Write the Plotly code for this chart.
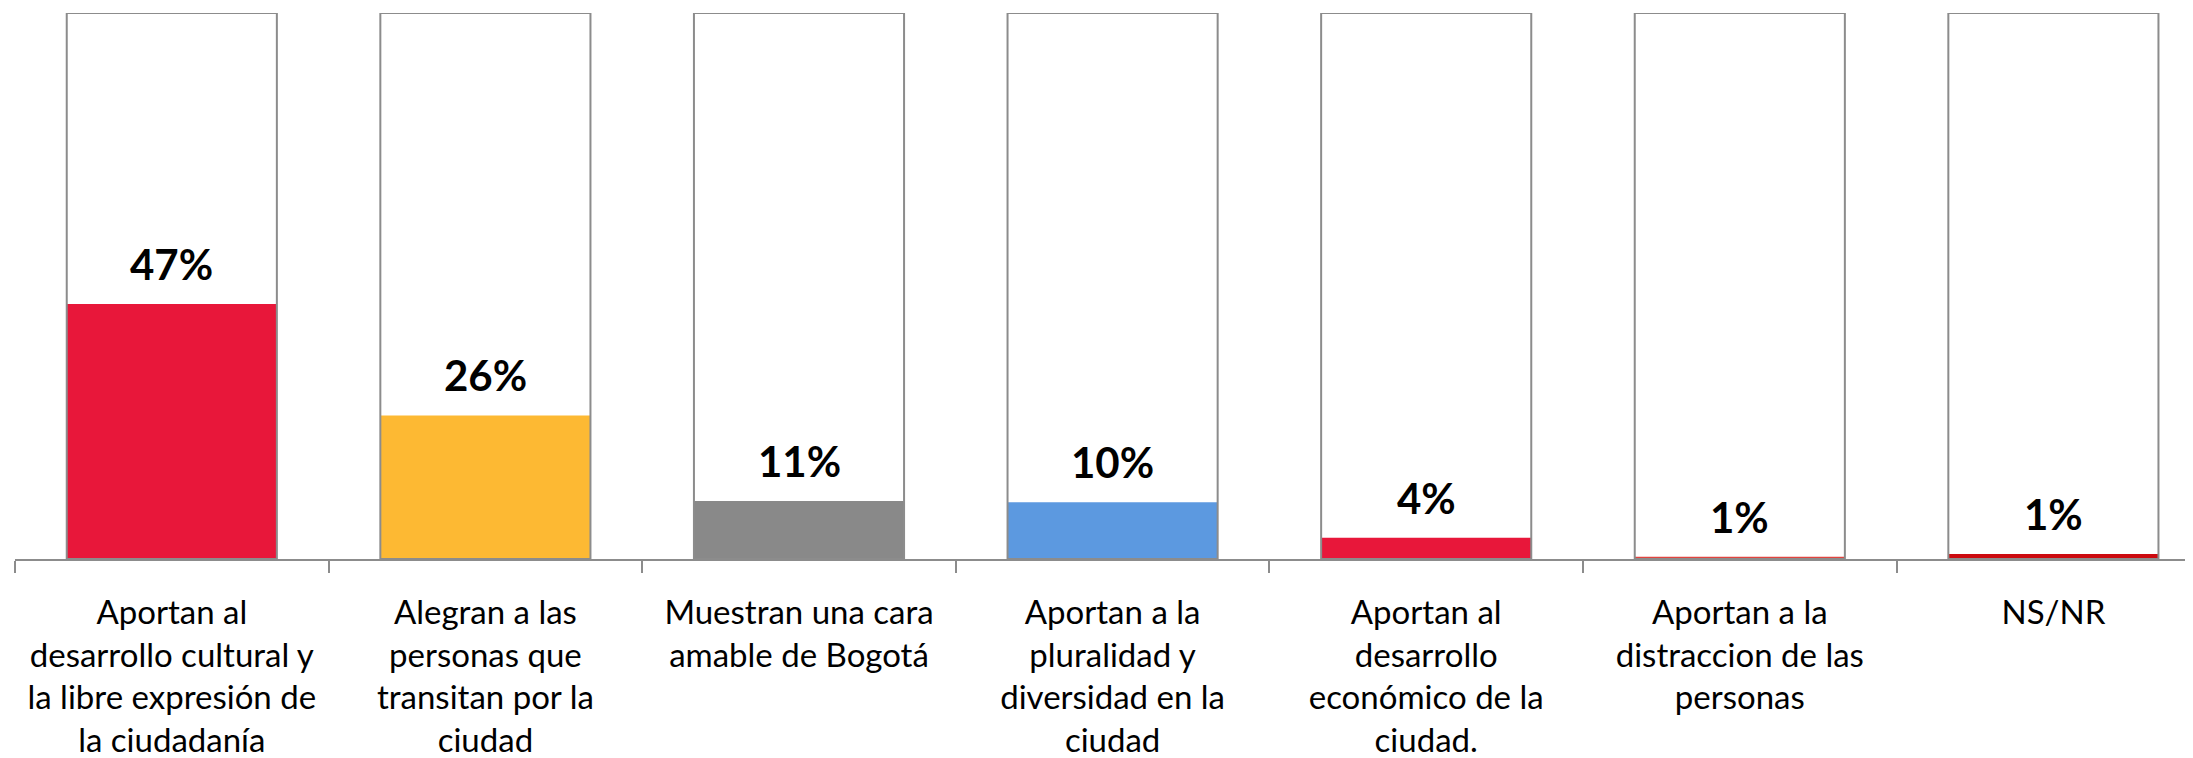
import plotly.graph_objects as go

categories = [
    "Aportan al<br>desarrollo cultural y<br>la libre expresión de<br>la ciudadanía",
    "Alegran a las<br>personas que<br>transitan por la<br>ciudad",
    "Muestran una cara<br>amable de Bogotá",
    "Aportan a la<br>pluralidad y<br>diversidad en la<br>ciudad",
    "Aportan al<br>desarrollo<br>económico de la<br>ciudad.",
    "Aportan a la<br>distraccion de las<br>personas",
    "NS/NR",
]
values = [46.7, 26.3, 10.6, 10.4, 3.9, 0.4, 0.9]
value_labels = ["47%", "26%", "11%", "10%", "4%", "1%", "1%"]
full_scale = [100] * len(categories)
bar_colors = ["#E8173A", "#FDB933", "#898989", "#5C99E0", "#E8173A", "#E0443F", "#CC0A0F"]

BAR_W = 0.67
OUTLINE = "#8C8C8C"

fig = go.Figure()
# white background column
fig.add_trace(go.Bar(x=categories, y=full_scale, width=BAR_W,
                     marker=dict(color="white", line=dict(width=0)),
                     hoverinfo="skip", cliponaxis=False))
# colored value bars
fig.add_trace(go.Bar(x=categories, y=values, width=BAR_W,
                     marker=dict(color=bar_colors, line=dict(width=0)),
                     cliponaxis=False))
# outline of the 100% column
fig.add_trace(go.Bar(x=categories, y=full_scale, width=BAR_W,
                     marker=dict(color="rgba(0,0,0,0)", line=dict(color=OUTLINE, width=2)),
                     hoverinfo="skip", cliponaxis=False))

for c, v, lab in zip(categories, values, value_labels):
    fig.add_annotation(x=c, y=v, text=f"<b>{lab}</b>", showarrow=False,
                       yanchor="bottom", yshift=13,
                       font=dict(family="Lato", size=42, color="black"))

plot_w = 2178
cat_w = 313.6
fig.update_layout(
    width=2193, height=758,
    margin=dict(l=7, r=8, t=5, b=207, autoexpand=False),
    paper_bgcolor="white", plot_bgcolor="white",
    barmode="overlay", showlegend=False,
    font=dict(family="Lato", size=34, color="black"),
)
fig.update_xaxes(
    type="category", range=[-0.5, -0.5 + plot_w / cat_w],
    showline=True, linecolor=OUTLINE, linewidth=2,
    ticks="outside", tickson="boundaries", ticklen=12, tickcolor=OUTLINE, tickwidth=2,
    showgrid=False, zeroline=False, tickangle=0, automargin=False,
    ticklabelstandoff=23,
    tickfont=dict(family="Lato", size=33, color="black"),
)
fig.update_yaxes(range=[0, 100], visible=False, showgrid=False, zeroline=False)

fig.write_html("out.html")
